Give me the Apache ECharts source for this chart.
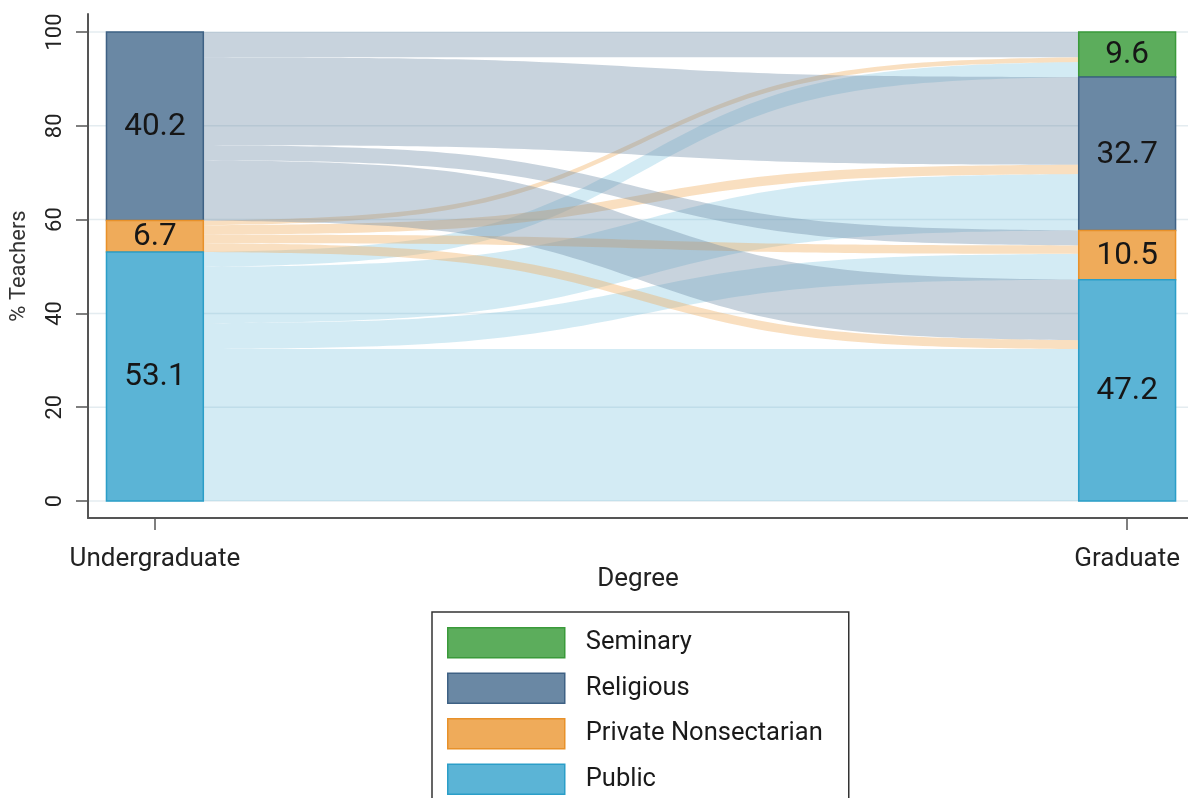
<!DOCTYPE html>
<html>
<head>
<meta charset="utf-8">
<script src="https://cdn.jsdelivr.net/npm/echarts@6.0.0/dist/echarts.min.js"></script>
<style>
  html, body { margin: 0; padding: 0; background: #ffffff; overflow: hidden; }
  #chart { width: 1188px; height: 840px; }
</style>
</head>
<body>
<div id="chart"></div>
<script>
// ---------------- data ----------------
const xLabels = ['Undergraduate', 'Graduate'];
const yTicks = [0, 20, 40, 60, 80, 100];
// left (undergraduate) categories, top to bottom
const sources = ['Religious', 'Private Nonsectarian', 'Public'];
const leftShares = [40.2, 6.7, 53.1];
// right (graduate) categories, top to bottom
const targets = ['Seminary', 'Religious', 'Private Nonsectarian', 'Public'];
const rightShares = [9.6, 32.7, 10.5, 47.2];
// flows from each undergraduate type to [Seminary, Religious, Private Nonsectarian, Public]
const flowReligious = [5.4, 18.7, 3.2, 12.9];
const flowPrivate = [1.0, 2.0, 1.8, 1.9];
const flowPublic = [3.2, 12.0, 5.5, 32.4];
const legendNames = ['Seminary', 'Religious', 'Private Nonsectarian', 'Public'];

// ---------------- styles ----------------
const FONT = 'Roboto';
const HALF = 0.0498;               // half bar width (x units)
const XMIN = -0.0688, XMAX = 1.0626;
const YMIN = -3.625, YMAX = 103.84;
const barStyle = {
  'Seminary': { fill: '#5cad5c', stroke: '#3a9a3a' },
  'Religious': { fill: '#6a88a4', stroke: '#3e6184' },
  'Private Nonsectarian': { fill: '#efab5a', stroke: '#e8912a' },
  'Public': { fill: '#5bb4d6', stroke: '#2b9ec8' }
};
const flowFill = {
  'Religious': 'rgba(106,136,164,0.37)',
  'Private Nonsectarian': 'rgba(239,171,90,0.38)',
  'Public': 'rgba(91,180,214,0.27)'
};

// ---------------- derived layout from data ----------------
const flows = [flowReligious, flowPrivate, flowPublic];
const leftTop = [];
{ let c = 100; leftShares.forEach(v => { leftTop.push(c); c -= v; }); }
const rightTop = [];
{ let c = 100; rightShares.forEach(v => { rightTop.push(c); c -= v; }); }

const flowData = [];
const leftCursor = leftTop.slice();
const rightCursor = rightTop.slice();
const flowSeg = {};
sources.forEach((s, i) => {
  targets.forEach((t, j) => {
    const v = flows[i][j];
    const ly1 = leftCursor[i], ly0 = ly1 - v;
    leftCursor[i] = ly0;
    flowSeg[i + '_' + j] = [ly0, ly1];
  });
});
targets.forEach((t, j) => {
  sources.forEach((s, i) => {
    const v = flows[i][j];
    const ry1 = rightCursor[j], ry0 = ry1 - v;
    rightCursor[j] = ry0;
    const l = flowSeg[i + '_' + j];
    flowData.push([l[0], l[1], ry0, ry1, i]);
  });
});

function barData(name) {
  const out = [];
  const li = sources.indexOf(name);
  if (li >= 0) out.push([0, leftTop[li] - leftShares[li], leftTop[li], leftShares[li]]);
  const ri = targets.indexOf(name);
  if (ri >= 0) out.push([1, rightTop[ri] - rightShares[ri], rightTop[ri], rightShares[ri]]);
  return out;
}

const K = 10;
const L = t => 1 / (1 + Math.exp(-K * (t - 0.5)));
const L0 = L(0), L1 = L(1);
const sig = t => (L(t) - L0) / (L1 - L0);

// ---------------- chart ----------------
const chart = echarts.init(document.getElementById('chart'), null, { renderer: 'canvas' });

const barSeries = legendNames.map(name => ({
  name: name,
  type: 'custom',
  coordinateSystem: 'cartesian2d',
  silent: true,
  z: 5,
  itemStyle: { color: barStyle[name].fill, borderColor: barStyle[name].stroke, borderWidth: 1.5 },
  data: barData(name),
  renderItem: function (params, api) {
    const x = api.value(0), y0 = api.value(1), y1 = api.value(2), v = api.value(3);
    const p0 = api.coord([x - HALF, y1]);
    const p1 = api.coord([x + HALF, y0]);
    const c = api.coord([x, (y0 + y1) / 2]);
    return {
      type: 'group',
      children: [
        { type: 'rect',
          shape: { x: p0[0], y: p0[1], width: p1[0] - p0[0], height: p1[1] - p0[1] },
          style: { fill: barStyle[name].fill, stroke: barStyle[name].stroke, lineWidth: 1.5 } },
        { type: 'text',
          style: { text: v.toFixed(1), x: c[0], y: c[1] + 1, align: 'center', verticalAlign: 'middle',
                   fontSize: 31.5, fontFamily: FONT, fill: '#161616' } }
      ]
    };
  }
}));

const option = {
  animation: false,
  backgroundColor: '#ffffff',
  grid: { left: 86, top: 14, width: 1102, height: 504, containLabel: false },
  xAxis: {
    type: 'value', min: XMIN, max: XMAX,
    name: 'Degree', nameLocation: 'middle', nameGap: 48, nameMoveOverlap: false,
    nameTextStyle: { fontSize: 26, fontFamily: FONT, color: '#222' },
    axisLine: { onZero: false, lineStyle: { color: '#555', width: 2 } },
    axisTick: { show: true, length: 12, customValues: [0, 1], lineStyle: { color: '#555', width: 1.5 } },
    axisLabel: { customValues: [0, 1], margin: 28, fontSize: 26, fontFamily: FONT, color: '#222',
                 formatter: v => xLabels[Math.round(v)] },
    splitLine: { show: false }
  },
  yAxis: {
    type: 'value', min: YMIN, max: YMAX,
    name: '% Teachers', nameLocation: 'middle', nameGap: 58,
    nameTextStyle: { fontSize: 22, fontFamily: FONT, color: '#333' },
    axisLine: { onZero: false, lineStyle: { color: '#555', width: 2 } },
    axisTick: { show: true, length: 12, customValues: yTicks, lineStyle: { color: '#555', width: 1.5 } },
    axisLabel: { customValues: yTicks, rotate: 90, margin: 22, fontSize: 22, fontFamily: FONT, color: '#222' },
    splitLine: { show: false }
  },
  legend: {
    orient: 'vertical', left: 432, top: 612, selectedMode: false,
    icon: 'rect', itemWidth: 117, itemHeight: 30, itemGap: 14,
    borderColor: '#333', borderWidth: 1.5, borderRadius: 0, padding: [15, 26, 15, 15],
    textStyle: { fontSize: 25.5, fontFamily: FONT, color: '#1a1a1a', padding: [0, 0, 0, 16] },
    data: legendNames.map(n => ({ name: n, itemStyle: { color: barStyle[n].fill, borderColor: barStyle[n].stroke, borderWidth: 1.5 } }))
  },
  series: [
    {
      name: 'gridlines', type: 'custom', coordinateSystem: 'cartesian2d', silent: true, z: 1,
      data: yTicks.map(v => [v]),
      renderItem: function (params, api) {
        const v = api.value(0);
        const a = api.coord([XMIN, v]), b = api.coord([XMAX, v]);
        return { type: 'line', shape: { x1: a[0] + 1, y1: a[1], x2: b[0], y2: b[1] },
                 style: { stroke: '#e4ecf0', lineWidth: 1.5 } };
      }
    },
    {
      name: 'flows', type: 'custom', coordinateSystem: 'cartesian2d', silent: true, z: 2,
      data: flowData,
      renderItem: function (params, api) {
        const ly0 = api.value(0), ly1 = api.value(1), ry0 = api.value(2), ry1 = api.value(3);
        const src = sources[api.value(4)];
        const xa = HALF, xb = 1 - HALF, N = 90;
        const pts = [];
        for (let s = 0; s <= N; s++) {
          const t = s / N;
          pts.push(api.coord([xa + (xb - xa) * t, ly1 + (ry1 - ly1) * sig(t)]));
        }
        for (let s = N; s >= 0; s--) {
          const t = s / N;
          pts.push(api.coord([xa + (xb - xa) * t, ly0 + (ry0 - ly0) * sig(t)]));
        }
        return { type: 'polygon', shape: { points: pts }, style: { fill: flowFill[src] } };
      }
    }
  ].concat(barSeries)
};
chart.setOption(option);
</script>
</body>
</html>
